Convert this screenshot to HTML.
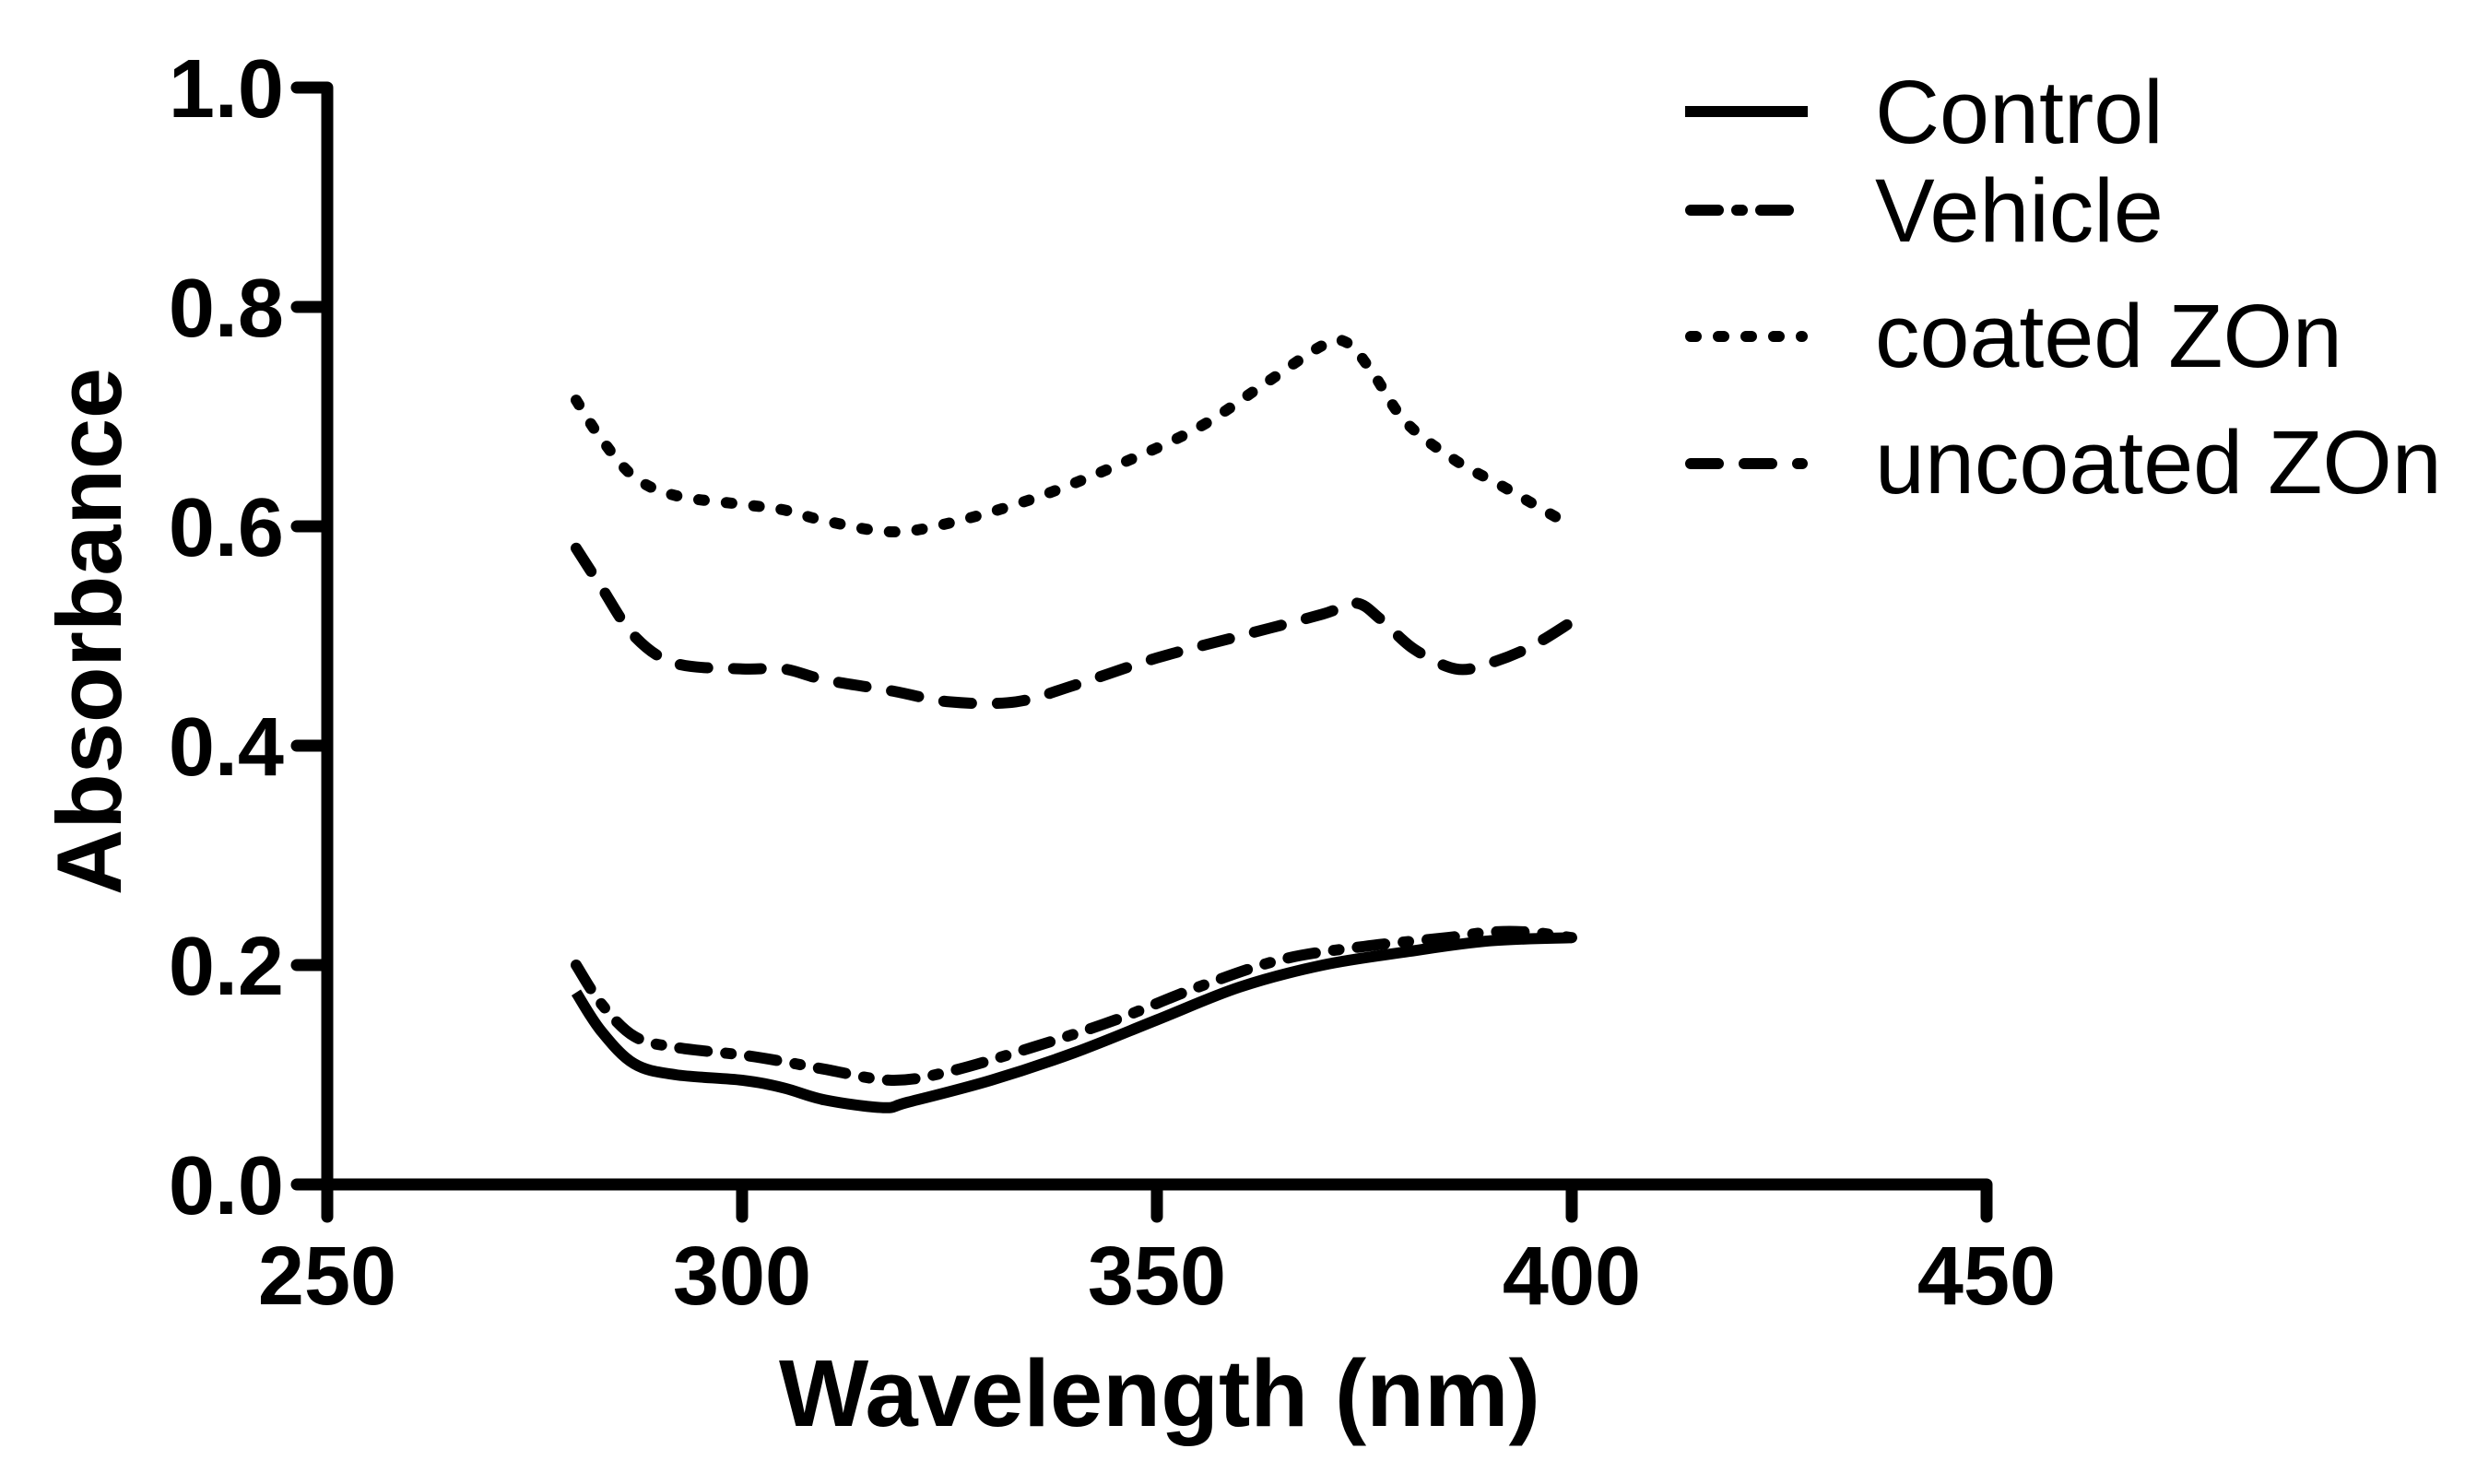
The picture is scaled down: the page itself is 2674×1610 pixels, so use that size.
<!DOCTYPE html>
<html><head><meta charset="utf-8"><style>
html,body{margin:0;padding:0;background:#fff;}
svg{display:block;}
text{font-family:"Liberation Sans",Arial,sans-serif;fill:#000;}
</style></head><body>
<svg id="chart" width="2674" height="1610" viewBox="0 0 2674 1610" xmlns="http://www.w3.org/2000/svg">
<g id="axes"></g>
<g id="series"></g>
<g id="legend"></g>
<text x="1258" y="1547" font-size="103" font-weight="bold" text-anchor="middle">Wavelength (nm)</text>
<text transform="translate(131,685) rotate(-90)" font-size="99" font-weight="bold" text-anchor="middle">Absorbance</text>
</svg>
<script>
const xTicks = [250, 300, 350, 400, 450];
const yTicks = [0.0, 0.2, 0.4, 0.6, 0.8, 1.0];
const yTickLabels = ["0.0", "0.2", "0.4", "0.6", "0.8", "1.0"];
const seriesNames = ["Control", "Vehicle", "coated ZOn", "uncoated ZOn"];
const controlX = [280,283,287,292,300,305,310,317,320,330,340,350,360,370,380,390,400];
const controlY = [0.175,0.14,0.11,0.1,0.095,0.088,0.077,0.07,0.075,0.095,0.12,0.15,0.18,0.2,0.212,0.222,0.225];
const vehicleX = [280,283,287,292,300,305,310,318,325,335,345,355,365,375,385,390,395,400];
const vehicleY = [0.2,0.165,0.135,0.125,0.118,0.112,0.105,0.095,0.103,0.125,0.15,0.18,0.205,0.217,0.225,0.23,0.23,0.225];
const coatedX = [280,283,287,292,300,305,310,318,325,335,345,355,363,370,373,376,380,386,392,400];
const coatedY = [0.715,0.68,0.645,0.628,0.62,0.615,0.605,0.595,0.603,0.625,0.655,0.69,0.73,0.765,0.767,0.74,0.695,0.66,0.635,0.6];
const uncoatedX = [280,283,287,292,300,305,310,318,325,333,340,350,360,370,374,377,381,386,390,395,400];
const uncoatedY = [0.58,0.545,0.5,0.475,0.47,0.47,0.46,0.45,0.44,0.44,0.455,0.48,0.5,0.52,0.53,0.515,0.488,0.47,0.475,0.49,0.513];

const NS = "http://www.w3.org/2000/svg";
const xs = v => 355 + (v - 250) * 9;
const ys = v => 1285 - v * 1190;
function mk(tag, attrs, parent){const e=document.createElementNS(NS,tag);for(const k in attrs)e.setAttribute(k,attrs[k]);parent.appendChild(e);return e;}
const axes = document.getElementById('axes');
let e;
e = mk('line',{x1:355,y1:ys(1),x2:355,y2:1291,stroke:'#000','stroke-width':13},axes);


e = mk('line',{x1:349,y1:1285,x2:2155,y2:1285,stroke:'#000','stroke-width':13},axes);


yTicks.forEach((t,i)=>{
  const l = mk('line',{x1:322,y1:ys(t),x2:355,y2:ys(t),stroke:'#000','stroke-width':13,'stroke-linecap':'round'},axes);
  
  
  const tx = mk('text',{x:308,y:ys(t)+32,'font-size':90,'font-weight':'bold','text-anchor':'end'},axes);
  tx.textContent = yTickLabels[i];
  
  
});
xTicks.forEach(t=>{
  const l = mk('line',{x1:xs(t),y1:1285,x2:xs(t),y2:1320,stroke:'#000','stroke-width':13,'stroke-linecap':'round'},axes);
  
  
  const tx = mk('text',{x:xs(t),y:1415,'font-size':90,'font-weight':'bold','text-anchor':'middle'},axes);
  tx.textContent = String(t);
  
  
});
function smooth(X,Y){
  const p = X.map((x,i)=>[xs(x),ys(Y[i])]);
  let d = `M${p[0][0]},${p[0][1]}`;
  for(let i=0;i<p.length-1;i++){
    const p0=p[i-1]||p[i],p1=p[i],p2=p[i+1],p3=p[i+2]||p2;
    d+=` C${p1[0]+(p2[0]-p0[0])/6},${p1[1]+(p2[1]-p0[1])/6} ${p2[0]-(p3[0]-p1[0])/6},${p2[1]-(p3[1]-p1[1])/6} ${p2[0]},${p2[1]}`;
  }
  return d;
}
const styles = [
  {dash:'none',cap:'butt'},
  {dash:'30 20 6 20',cap:'round'},
  {dash:'6 24',cap:'round'},
  {dash:'30 28',cap:'round'}
];
const sg = document.getElementById('series');
const allX=[controlX,vehicleX,coatedX,uncoatedX], allY=[controlY,vehicleY,coatedY,uncoatedY];
const names=['series-control','series-vehicle','series-coated-zon','series-uncoated-zon'];
allX.forEach((X,i)=>{
  const p = mk('path',{d:smooth(X,allY[i]),fill:'none',stroke:'#000','stroke-width':12,'stroke-dasharray':styles[i].dash,'stroke-linecap':styles[i].cap,'stroke-linejoin':'round'},sg);
  
  
});
const lg = document.getElementById('legend');
const lineY=[121,228,365,503], textY=[155,262,398,535];
seriesNames.forEach((n,i)=>{
  const l = mk('line',{x1:i==0?1828:1834,y1:lineY[i],x2:i==0?1961:1955,y2:lineY[i],stroke:'#000','stroke-width':12,'stroke-dasharray':styles[i].dash,'stroke-linecap':styles[i].cap},lg);
  
  
  const t = mk('text',{x:2034,y:textY[i],'font-size':97},lg);
  t.textContent = n;
  
  
});
</script>
</body></html>
